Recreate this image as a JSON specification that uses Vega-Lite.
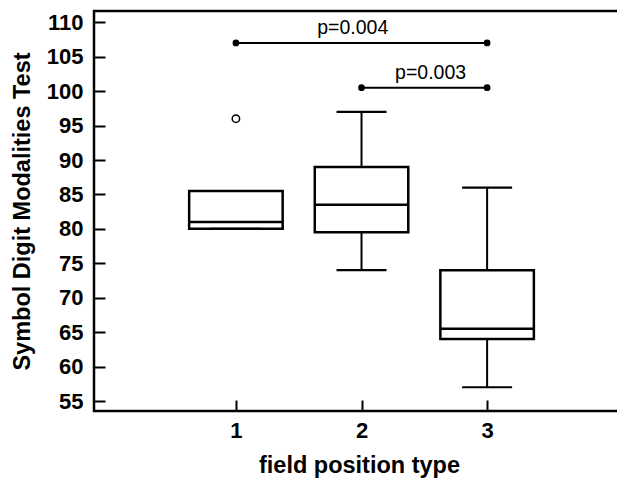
{
  "$schema": "https://vega.github.io/schema/vega-lite/v6.json",
  "width": 530,
  "height": 400,
  "autosize": "none",
  "padding": {"left": 94, "top": 11, "right": 0, "bottom": 69},
  "background": "white",
  "config": {
    "view": {"stroke": "black", "strokeWidth": 2.5},
    "font": "Liberation Sans",
    "axis": {
      "grid": false,
      "domain": false,
      "tickColor": "black",
      "tickWidth": 2,
      "tickSize": 11,
      "offset": -11,
      "labelOverlap": false,
      "labelColor": "black",
      "labelFont": "Liberation Sans",
      "labelFontWeight": "bold",
      "labelFontSize": 22,
      "titleColor": "black",
      "titleFont": "Liberation Sans",
      "titleFontWeight": "bold",
      "titleFontSize": 23.5
    },
    "axisX": {"labelPadding": 9, "titlePadding": 12},
    "axisY": {"labelPadding": 11, "titlePadding": 12}
  },
  "datasets": {
    "boxes": [
      {"group": 1, "lower": 80, "q1": 80, "median": 81, "q3": 85.5, "upper": 85.5},
      {"group": 2, "lower": 74, "q1": 79.5, "median": 83.5, "q3": 89, "upper": 97},
      {"group": 3, "lower": 57, "q1": 64, "median": 65.5, "q3": 74, "upper": 86}
    ],
    "outliers": [{"group": 1, "value": 96}],
    "sig": [
      {"from": 1, "to": 3, "y": 107, "label": "p=0.004", "labelx": 1.93},
      {"from": 2, "to": 3, "y": 100.5, "label": "p=0.003", "labelx": 2.55}
    ]
  },
  "layer": [
    {
      "data": {"name": "boxes"},
      "mark": {"type": "rule", "color": "black", "strokeWidth": 2},
      "encoding": {
        "x": {"field": "group", "type": "quantitative", "scale": {"domain": [-0.09, 4.05], "nice": false, "zero": false}, "axis": {"values": [1, 2, 3], "tickCount": 20, "format": "d", "labelOverlap": false}, "title": "field position type"},
        "y": {"field": "lower", "type": "quantitative", "scale": {"domain": [53.55, 111.64], "nice": false, "zero": false}, "axis": {"values": [55, 60, 65, 70, 75, 80, 85, 90, 95, 100, 105, 110], "tickCount": 30, "labelOverlap": false, "labelBound": false, "labelFlush": false}, "title": "Symbol Digit Modalities Test"},
        "y2": {"field": "upper"}
      }
    },
    {
      "data": {"name": "boxes"},
      "mark": {"type": "bar", "width": 93.5, "fill": "white", "stroke": "black", "strokeWidth": 2.5},
      "encoding": {
        "x": {"field": "group", "type": "quantitative"},
        "y": {"field": "q1", "type": "quantitative"},
        "y2": {"field": "q3"}
      }
    },
    {
      "data": {"name": "boxes"},
      "mark": {"type": "tick", "orient": "horizontal", "size": 94, "thickness": 2.5, "color": "black", "opacity": 1},
      "encoding": {
        "x": {"field": "group", "type": "quantitative"},
        "y": {"field": "median", "type": "quantitative"}
      }
    },
    {
      "data": {"name": "boxes"},
      "transform": [{"fold": ["lower", "upper"], "as": ["end", "val"]}],
      "mark": {"type": "tick", "orient": "horizontal", "size": 50, "thickness": 2.2, "color": "black", "opacity": 1},
      "encoding": {
        "x": {"field": "group", "type": "quantitative"},
        "y": {"field": "val", "type": "quantitative"}
      }
    },
    {
      "data": {"name": "outliers"},
      "mark": {"type": "point", "shape": "circle", "filled": false, "size": 55, "stroke": "black", "strokeWidth": 1.5, "opacity": 1},
      "encoding": {
        "x": {"field": "group", "type": "quantitative"},
        "y": {"field": "value", "type": "quantitative"}
      }
    },
    {
      "data": {"name": "sig"},
      "mark": {"type": "rule", "color": "black", "strokeWidth": 2},
      "encoding": {
        "x": {"field": "from", "type": "quantitative"},
        "x2": {"field": "to"},
        "y": {"field": "y", "type": "quantitative"}
      }
    },
    {
      "data": {"name": "sig"},
      "transform": [{"fold": ["from", "to"], "as": ["end", "pos"]}],
      "mark": {"type": "point", "shape": "circle", "filled": true, "size": 45, "color": "black", "opacity": 1},
      "encoding": {
        "x": {"field": "pos", "type": "quantitative"},
        "y": {"field": "y", "type": "quantitative"}
      }
    },
    {
      "data": {"name": "sig"},
      "mark": {"type": "text", "fontSize": 19.5, "font": "Liberation Sans", "color": "black", "baseline": "alphabetic", "align": "center", "dy": -9},
      "encoding": {
        "x": {"field": "labelx", "type": "quantitative"},
        "y": {"field": "y", "type": "quantitative"},
        "text": {"field": "label"}
      }
    }
  ]
}
